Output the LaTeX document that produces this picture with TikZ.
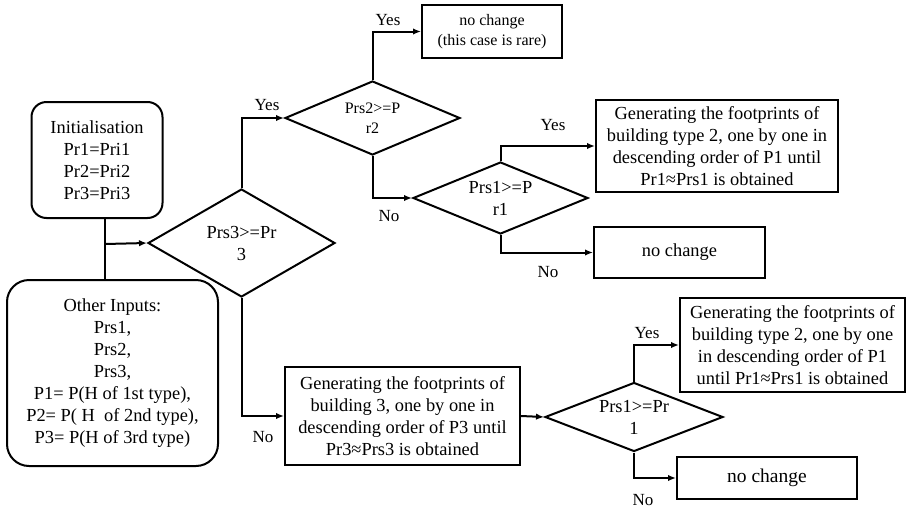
\documentclass[tikz,border=0pt]{standalone}
\usepackage{fontspec}
\setmainfont{Liberation Serif}
\usetikzlibrary{shapes.geometric,arrows.meta}

\begin{document}
\begin{tikzpicture}[x=1pt,y=-1pt,
  lw/.style={line width=2pt},
  bigtext/.style={font=\fontsize{18.4}{22}\selectfont},
  smalltext/.style={font=\fontsize{16}{20}\selectfont},
  pbox/.style={draw,lw,rectangle,align=center,inner sep=0pt,bigtext},
  rbox/.style={pbox,rounded corners=#1},
  decision/.style={draw,lw,diamond,align=center,inner sep=0pt,bigtext},
  lbl/.style={inner sep=0pt,font=\fontsize{17}{20}\selectfont},
  arr/.style={lw,-{Latex[length=8pt,width=6.5pt]}},
  link/.style={lw}]

\useasboundingbox (0,0) rectangle (908,509);

% input blocks
\node[rbox=15pt,minimum width=131pt,minimum height=116pt] (init) at (97,160)
  {Initialisation\\Pr1=Pri1\\Pr2=Pri2\\Pr3=Pri3};
\node[rbox=22pt,minimum width=211pt,minimum height=186pt] (other) at (112.5,373)
  {Other Inputs:\\Prs1,\\Prs2,\\Prs3,\\P1= P(H of 1st type),\\P2= P(~H~~of 2nd type),\\P3= P(H of 3rd type)};

% decisions
\node[decision,minimum width=187pt,minimum height=108pt,aspect=1.73] (d1) at (241.5,243)
  {Prs3>=Pr\\3};
\node[decision,smalltext,minimum width=175pt,minimum height=74pt,aspect=2.36] (d2) at (372.5,118)
  {Prs2>=P\\r2};
\node[decision,minimum width=175pt,minimum height=72pt,aspect=2.43] (d3) at (500.5,198)
  {Prs1>=P\\r1};
\node[decision,minimum width=178pt,minimum height=69pt,aspect=2.58] (d4) at (634,417)
  {Prs1>=Pr\\1};

% outcome boxes
\node[pbox,smalltext,minimum width=140pt,minimum height=53pt] (nc1) at (492,31.5)
  {\raisebox{-2pt}{no change}\\\raisebox{-2pt}{(this case is rare)}};
\node[pbox,minimum width=242pt,minimum height=92pt] (g2a) at (717,146)
  {Generating the footprints of\\building type 2, one by one in\\descending order of P1 until\\Pr1≈Prs1 is obtained};
\node[pbox,minimum width=171pt,minimum height=51pt] (nc2) at (679.5,252.5)
  {no change};
\node[pbox,minimum width=235pt,minimum height=98pt] (g3) at (402.5,416)
  {Generating the footprints of\\building 3, one by one in\\descending order of P3 until\\Pr3≈Prs3 is obtained};
\node[pbox,minimum width=225pt,minimum height=94pt] (g2b) at (792.5,345)
  {Generating the footprints of\\building type 2, one by one\\in descending order of P1\\until Pr1≈Prs1 is obtained};
\node[pbox,font=\fontsize{19.5}{22}\selectfont,minimum width=180pt,minimum height=42pt] (nc3) at (767,478)
  {no change};

% branch labels
\node[lbl] (y1) at (267,105) {Yes};
\node[lbl] (y2) at (388,20) {Yes};
\node[lbl] (n2) at (389,216) {No};
\node[lbl] (y3) at (553,125) {Yes};
\node[lbl] (n3) at (548,272) {No};
\node[lbl] (n1) at (263,437) {No};
\node[lbl] (y4) at (647,333) {Yes};
\node[lbl] (n4) at (643,500) {No};

% connectors
\coordinate (j) at (105,244);
\draw[link] (init.south -| j) -- (other.north -| j);
\draw[arr] (j) -- (d1.west);
\draw[arr] (d1.north) |- (d2.west);
\draw[arr] (d1.south) |- (g3.west);
\draw[arr] (d2.north) |- (nc1.west);
\draw[arr] (d2.south) |- (d3.west);
\draw[arr] (d3.north) |- (g2a.west);
\draw[arr] (d3.south) |- (nc2.west);
\draw[arr] (g3.east) -- (d4.west);
\draw[arr] (d4.north) |- (g2b.west);
\draw[arr] (d4.south) |- (nc3.west);

\end{tikzpicture}
\end{document}
